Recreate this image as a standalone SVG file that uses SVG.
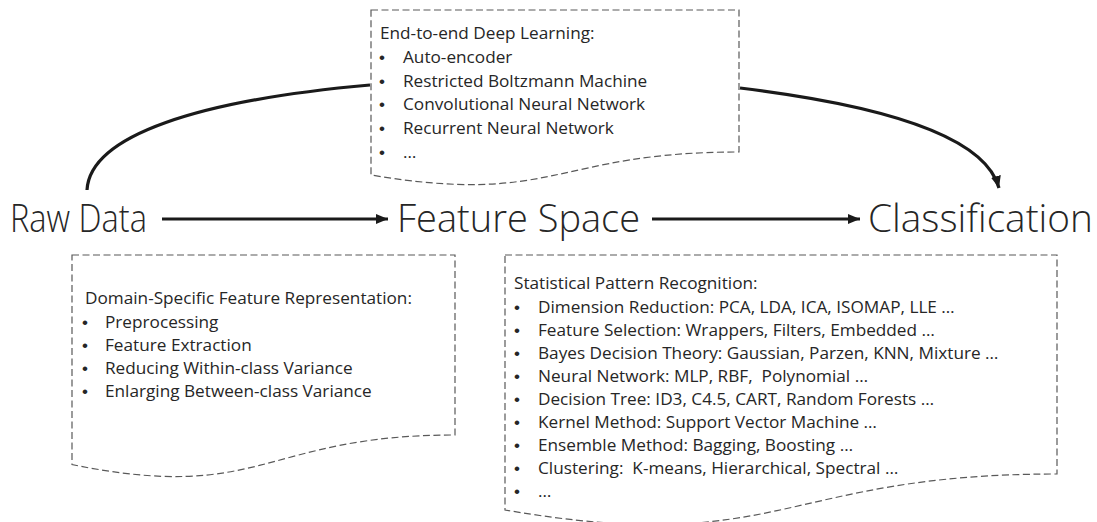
<svg xmlns="http://www.w3.org/2000/svg" width="1097" height="522" viewBox="0 0 1097 522">
<style>
.doc{fill:none;stroke:#595959;stroke-width:1.2;stroke-dasharray:7,3.5}
.big{font-family:"Open Sans","Liberation Sans",sans-serif;font-weight:300;font-size:39px;fill:#262626}
.lst{font-family:"Open Sans","Liberation Sans",sans-serif;font-size:17.2px;fill:#262626}
.bul{font-family:"Liberation Sans",sans-serif;font-size:17px;fill:#262626}
.con{fill:none;stroke:#1a1a1a;stroke-width:3.2}
</style>
<defs>
<marker id="ah" markerUnits="userSpaceOnUse" markerWidth="14" markerHeight="12" refX="12" refY="5" orient="auto">
<path d="M0,0 L12,5 L0,10 Z" fill="#1a1a1a"/>
</marker>
</defs>
<rect width="1097" height="522" fill="#fff"/>
<g id="connectors">
<line class="con" x1="162" y1="219" x2="388" y2="219" marker-end="url(#ah)"/>
<line class="con" x1="652" y1="219" x2="860" y2="219" marker-end="url(#ah)"/>
<path class="con" d="M87,190 C90,135 200,100 370,85"/>
<path class="con" d="M740,88 C880,105 985,135 999,188" marker-end="url(#ah)"/>
</g>
<g id="raw-data"><text class="big" x="10" y="232" textLength="137" lengthAdjust="spacingAndGlyphs">Raw Data</text></g>
<g id="feature-space"><text class="big" x="397" y="232" textLength="243" lengthAdjust="spacingAndGlyphs">Feature Space</text></g>
<g id="classification"><text class="big" x="868" y="232" textLength="225" lengthAdjust="spacingAndGlyphs">Classification</text></g>
<g id="deep-learning">
<path class="doc" d="M371,10 H739 V152 C555,152 555,206 371,175 Z"/>
<text class="lst" x="380" y="39">End-to-end Deep Learning:</text>
<text class="bul" x="379" y="63">•</text><text class="lst" x="403" y="63">Auto-encoder</text>
<text class="bul" x="379" y="87">•</text><text class="lst" x="403" y="87">Restricted Boltzmann Machine</text>
<text class="bul" x="379" y="110">•</text><text class="lst" x="403" y="110">Convolutional Neural Network</text>
<text class="bul" x="379" y="134">•</text><text class="lst" x="403" y="134">Recurrent Neural Network</text>
<text class="bul" x="379" y="158">•</text><text class="lst" x="403" y="158">…</text>
</g>
<g id="domain-specific">
<path class="doc" d="M72,255 H455 V435 C263.5,435 263.5,503.5 72,464.6 Z"/>
<text class="lst" x="85" y="304">Domain-Specific Feature Representation:</text>
<text class="bul" x="82" y="328">•</text><text class="lst" x="105" y="328">Preprocessing</text>
<text class="bul" x="82" y="351">•</text><text class="lst" x="105" y="351">Feature Extraction</text>
<text class="bul" x="82" y="374">•</text><text class="lst" x="105" y="374">Reducing Within-class Variance</text>
<text class="bul" x="82" y="397">•</text><text class="lst" x="105" y="397">Enlarging Between-class Variance</text>
</g>
<g id="statistical">
<path class="doc" d="M505,255 H1057 V474 C781,474 781,557.4 505,510 Z"/>
<text class="lst" x="514" y="289">Statistical Pattern Recognition:</text>
<text class="bul" x="514" y="313">•</text><text class="lst" x="538" y="313">Dimension Reduction: PCA, LDA, ICA, ISOMAP, LLE …</text>
<text class="bul" x="514" y="336">•</text><text class="lst" x="538" y="336">Feature Selection: Wrappers, Filters, Embedded …</text>
<text class="bul" x="514" y="359">•</text><text class="lst" x="538" y="359">Bayes Decision Theory: Gaussian, Parzen, KNN, Mixture …</text>
<text class="bul" x="514" y="382">•</text><text class="lst" x="538" y="382" xml:space="preserve">Neural Network: MLP, RBF,  Polynomial …</text>
<text class="bul" x="514" y="405">•</text><text class="lst" x="538" y="405">Decision Tree: ID3, C4.5, CART, Random Forests …</text>
<text class="bul" x="514" y="428">•</text><text class="lst" x="538" y="428">Kernel Method: Support Vector Machine …</text>
<text class="bul" x="514" y="451">•</text><text class="lst" x="538" y="451">Ensemble Method: Bagging, Boosting …</text>
<text class="bul" x="514" y="474">•</text><text class="lst" x="538" y="474" xml:space="preserve">Clustering:  K-means, Hierarchical, Spectral …</text>
<text class="bul" x="514" y="497">•</text><text class="lst" x="538" y="497">…</text>
</g>
</svg>
